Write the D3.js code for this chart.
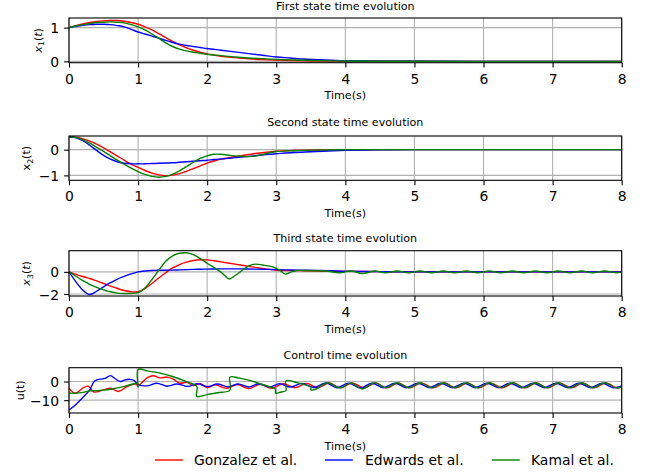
<!DOCTYPE html>
<html>
<head>
<meta charset="utf-8">
<script src="https://cdn.jsdelivr.net/npm/d3@7"></script>
<style>
  body { margin: 0; background: #ffffff; }
  svg text { font-family: "DejaVu Sans", sans-serif; fill: #000; }
</style>
</head>
<body>
<svg id="chart" width="650" height="472"></svg>
<script>
// ---------------- data ----------------
const timeTicks = [0, 1, 2, 3, 4, 5, 6, 7, 8];
const seriesNames = ["Gonzalez et al.", "Edwards et al.", "Kamal et al."];

// first state x1(t)
const x1Time = [0,0.1,0.2,0.3,0.4,0.5,0.6,0.7,0.8,0.9,1.0,1.1,1.2,1.3,1.4,1.5,1.6,1.7,1.8,1.9,2.0,2.2,2.4,2.6,2.8,3.0,3.2,3.4,3.6,3.8,4.0,5,6,7,8];
const x1Gonzalez = [1.00,1.06,1.11,1.15,1.18,1.20,1.21,1.21,1.19,1.15,1.10,1.02,0.93,0.82,0.70,0.59,0.49,0.40,0.33,0.27,0.22,0.15,0.11,0.075,0.05,0.035,0.024,0.016,0.01,0.007,0.005,0.001,0,0,0];
const x1Edwards  = [1.00,1.04,1.07,1.09,1.10,1.10,1.09,1.06,1.02,0.95,0.87,0.81,0.75,0.69,0.62,0.56,0.51,0.47,0.44,0.41,0.38,0.33,0.28,0.23,0.18,0.13,0.10,0.07,0.05,0.035,0.02,0.004,0,0,0];
const x1Kamal    = [1.00,1.05,1.09,1.12,1.15,1.16,1.17,1.16,1.14,1.09,1.02,0.93,0.81,0.68,0.55,0.44,0.36,0.31,0.27,0.24,0.21,0.17,0.13,0.10,0.08,0.06,0.045,0.032,0.022,0.015,0.01,0.002,0,0,0];
const x1Ticks = [0, 1];

// second state x2(t)
const x2Time = [0,0.1,0.2,0.3,0.4,0.5,0.6,0.7,0.8,0.9,1.0,1.1,1.2,1.3,1.4,1.5,1.6,1.7,1.8,1.9,2.0,2.1,2.2,2.3,2.4,2.5,2.6,2.7,2.8,2.9,3.0,3.25,3.5,3.75,4.0,4.5,5,6,7,8];
const x2Gonzalez = [0.50,0.48,0.42,0.33,0.21,0.07,-0.09,-0.25,-0.41,-0.56,-0.69,-0.81,-0.91,-0.98,-1.01,-0.99,-0.93,-0.84,-0.74,-0.63,-0.52,-0.44,-0.37,-0.32,-0.27,-0.23,-0.19,-0.15,-0.12,-0.09,-0.06,-0.035,-0.02,-0.01,-0.005,0,0,0,0,0];
const x2Edwards  = [0.50,0.46,0.35,0.17,-0.03,-0.22,-0.37,-0.47,-0.53,-0.55,-0.55,-0.55,-0.54,-0.53,-0.52,-0.51,-0.49,-0.47,-0.45,-0.43,-0.41,-0.38,-0.36,-0.34,-0.31,-0.29,-0.26,-0.23,-0.21,-0.18,-0.16,-0.11,-0.08,-0.05,-0.03,-0.01,0,0,0,0];
const x2Kamal    = [0.50,0.47,0.38,0.25,0.09,-0.07,-0.24,-0.41,-0.57,-0.72,-0.85,-0.96,-1.04,-1.07,-1.04,-0.95,-0.82,-0.66,-0.49,-0.34,-0.24,-0.18,-0.18,-0.21,-0.24,-0.26,-0.27,-0.25,-0.19,-0.12,-0.07,-0.04,-0.02,-0.01,0,0,0,0,0,0];
const x2Ticks = [-1, 0];

// third state x3(t)
const x3Time = [0,0.1,0.2,0.3,0.4,0.5,0.6,0.7,0.8,0.9,1.0,1.1,1.2,1.3,1.4,1.5,1.6,1.7,1.8,1.9,2.0,2.1,2.2,2.3,2.4,2.5,2.6,2.7,2.8,2.9,3.0,3.2,3.4,3.6,3.8,4.0,4.5,5,6,7,8];
const x3Gonzalez = [0,-0.22,-0.42,-0.6,-0.82,-1.05,-1.28,-1.5,-1.68,-1.8,-1.8,-1.5,-1.05,-0.55,-0.08,0.35,0.66,0.88,1.02,1.09,1.08,1.0,0.9,0.8,0.7,0.6,0.5,0.4,0.3,0.22,0.15,0.12,0.1,0.08,0.06,0.04,0.02,0.01,0,0,0];
const x3Edwards  = [0,-0.9,-1.65,-2.05,-1.75,-1.35,-0.98,-0.65,-0.40,-0.18,0.0,0.08,0.12,0.14,0.15,0.16,0.18,0.2,0.22,0.24,0.25,0.26,0.27,0.27,0.27,0.27,0.26,0.25,0.24,0.22,0.2,0.17,0.15,0.13,0.1,0.06,0.02,0.0,0,0,0];
const x3KamalTime = [0,0.1,0.2,0.3,0.4,0.5,0.6,0.7,0.8,0.9,1.0,1.1,1.2,1.3,1.4,1.5,1.6,1.7,1.8,1.9,2.0,2.1,2.2,2.32,2.4,2.5,2.6,2.7,2.8,2.95,3.05,3.13,3.22,3.3,3.45,3.6,3.75,3.92,4.08,4.25,4.42,4.58,4.75,4.92,5.08,5.25,5.42,5.58,5.75,5.92,6.08,6.25,6.42,6.58,6.75,6.92,7.08,7.25,7.42,7.58,7.75,7.92,8.0];
const x3Kamal    = [0,-0.4,-0.8,-1.12,-1.4,-1.62,-1.8,-1.92,-1.95,-1.95,-1.88,-1.45,-0.7,0.15,0.95,1.45,1.68,1.72,1.55,1.2,0.78,0.38,-0.02,-0.64,-0.35,0.1,0.55,0.7,0.62,0.45,0.15,-0.2,0.0,0.12,0.12,0.1,0.05,-0.08,0.08,-0.15,0.08,-0.08,0.08,-0.08,0.08,-0.08,0.08,-0.08,0.08,-0.08,0.08,-0.08,0.08,-0.08,0.08,-0.08,0.08,-0.08,0.08,-0.08,0.08,-0.08,0.0];
const x3Ticks = [-2, 0];

// control u(t)
const uTimeGonzalez = [0,0.09,0.2,0.28,0.36,0.5,0.6,0.72,0.84,0.96,1.0,1.13,1.22,1.32,1.42,1.51,1.61,1.71,1.8,1.9,2.0,2.12,2.28,2.44,2.6,2.77,2.93,3.1,3.27,3.44,3.6,3.77,3.93,4.10,4.27,4.44,4.60,4.77,4.93,5.10,5.27,5.44,5.60,5.77,5.93,6.10,6.27,6.44,6.60,6.77,6.93,7.10,7.27,7.44,7.60,7.77,7.93,8.0];
const uGonzalez = [-3.5,-6.3,-3.5,-2.5,-5.6,-4.5,-3.6,-5.3,-2.7,-1.3,-2.2,2.0,3.1,2.0,2.4,1.3,-0.9,-0.4,-2.2,-1.2,-3.2,-1.8,-3.6,-1.6,-3.8,-1.5,-3.6,-1.2,-3.3,-1.0,-3.3,-0.8,-3.4,-0.8,-3.4,-0.8,-3.4,-0.8,-3.4,-0.8,-3.4,-0.8,-3.4,-0.8,-3.4,-0.8,-3.4,-0.8,-3.4,-0.8,-3.4,-0.8,-3.4,-0.8,-3.4,-0.8,-3.4,-3.0];
const uTimeEdwards = [0,0.1,0.2,0.3,0.37,0.45,0.52,0.6,0.67,0.74,0.8,0.88,0.94,1.0,1.13,1.27,1.42,1.56,1.72,1.86,2.0,2.15,2.3,2.45,2.6,2.75,2.9,3.05,3.2,3.37,3.54,3.72,3.88,4.05,4.22,4.38,4.55,4.72,4.88,5.05,5.22,5.38,5.55,5.72,5.88,6.05,6.22,6.38,6.55,6.72,6.88,7.05,7.22,7.38,7.55,7.72,7.88,8.0];
const uEdwards = [-15.3,-12.3,-8.6,-4.5,0.3,1.3,1.7,3.2,1.5,0.0,0.8,1.2,0.6,-1.6,-2.3,-0.9,-2.5,-1.3,-2.6,-1.2,-2.7,-1.3,-2.8,-1.3,-2.9,-1.2,-2.9,-1.1,-3.0,-1.0,-3.2,-0.8,-3.3,-0.9,-3.5,-0.9,-3.3,-0.9,-3.3,-0.9,-3.3,-0.9,-3.3,-0.9,-3.3,-0.9,-3.3,-0.9,-3.3,-0.9,-3.3,-0.9,-3.3,-0.9,-3.3,-0.9,-3.3,-2.4];
const uTimeKamal = [0,0.1,0.2,0.3,0.4,0.5,0.6,0.7,0.8,0.9,0.98,1.0,1.0,1.15,1.32,1.51,1.71,1.85,1.85,2.0,2.15,2.33,2.33,2.45,2.6,2.75,2.9,2.99,2.99,3.07,3.14,3.14,3.3,3.5,3.5,3.58,3.65,3.75,3.92,4.08,4.25,4.42,4.58,4.75,4.92,5.08,5.25,5.42,5.58,5.75,5.92,6.08,6.25,6.42,6.58,6.75,6.92,7.08,7.25,7.42,7.58,7.75,7.92,8.0];
const uKamal = [-6.3,-6.2,-5.8,-5.0,-4.9,-4.6,-4.1,-3.4,-2.6,-1.6,-1.0,-3.0,6.5,5.6,4.5,2.6,-0.2,-2.6,-8.0,-7.0,-6.0,-4.6,2.4,2.0,0.8,-1.0,-2.8,-4.2,-6.3,-5.6,-4.9,0.4,-0.6,-3.1,-4.4,-4.0,-2.2,-0.6,-3.4,-0.8,-4.0,-0.6,-3.4,-0.6,-3.4,-0.6,-3.4,-0.6,-3.4,-0.6,-3.4,-0.6,-3.4,-0.6,-3.4,-0.6,-3.4,-0.6,-3.4,-0.6,-3.4,-0.6,-3.4,-2.8];
const uTicks = [-10, 0];

// ---------------- drawing ----------------
const colors = ["#ff0000", "#0000ff", "#008000"];
const svg = d3.select("#chart");
const x = d3.scaleLinear().domain([0, 8]).range([69, 621.7]);
const minus = d => (d < 0 ? "\u2212" + Math.abs(d) : String(d));
const zip = (t, v) => t.map((ti, i) => [ti, v[i]]);

const panels = [
  { top: 18, bottom: 62.7, domain: [-0.04, 1.285], ticks: x1Ticks,
    title: "First state time evolution", titleGap: 8,
    label: [{ s: "x", i: true }, { s: "1", sub: true }, { s: "(" }, { s: "t", i: true }, { s: ")" }], labelX: 41.5,
    series: [zip(x1Time, x1Gonzalez), zip(x1Time, x1Edwards), zip(x1Time, x1Kamal)] },
  { top: 136, bottom: 180.3, domain: [-1.19, 0.53], ticks: x2Ticks,
    title: "Second state time evolution", titleGap: 10,
    label: [{ s: "x" }, { s: "2", sub: true }, { s: "(t)" }], labelX: 30,
    series: [zip(x2Time, x2Gonzalez), zip(x2Time, x2Edwards), zip(x2Time, x2Kamal)] },
  { top: 250.7, bottom: 296, domain: [-2.18, 1.91], ticks: x3Ticks,
    title: "Third state time evolution", titleGap: 9,
    label: [{ s: "x", i: true }, { s: "3", sub: true }, { s: "(" }, { s: "t", i: true }, { s: ")" }], labelX: 30,
    series: [zip(x3Time, x3Gonzalez), zip(x3Time, x3Edwards), zip(x3KamalTime, x3Kamal)] },
  { top: 367.7, bottom: 413, domain: [-16.9, 7.45], ticks: uTicks,
    title: "Control time evolution", titleGap: 9,
    label: [{ s: "u(t)" }], labelX: 23.5,
    series: [zip(uTimeGonzalez, uGonzalez), zip(uTimeEdwards, uEdwards), zip(uTimeKamal, uKamal)] }
];

const defs = svg.append("defs");

panels.forEach((p, k) => {
  const y = d3.scaleLinear().domain(p.domain).range([p.bottom, p.top]);
  const g = svg.append("g");
  const [xl, xr] = x.range();

  defs.append("clipPath").attr("id", "clip" + k)
    .append("rect").attr("x", xl).attr("y", p.top).attr("width", xr - xl).attr("height", p.bottom - p.top);

  // grid
  g.append("g").selectAll("line").data(timeTicks).join("line")
    .attr("x1", d => x(d)).attr("x2", d => x(d)).attr("y1", p.top).attr("y2", p.bottom)
    .attr("stroke", "#b0b0b0").attr("stroke-width", 1.1);
  g.append("g").selectAll("line").data(p.ticks).join("line")
    .attr("x1", xl).attr("x2", xr).attr("y1", d => y(d)).attr("y2", d => y(d))
    .attr("stroke", "#b0b0b0").attr("stroke-width", 1.1);

  // series
  const line = d3.line().x(d => x(d[0])).y(d => y(d[1])).curve(d3.curveCatmullRom.alpha(0.5));
  const lg = g.append("g").attr("clip-path", `url(#clip${k})`);
  p.series.forEach((s, i) => {
    lg.append("path").attr("d", line(s)).attr("fill", "none")
      .attr("stroke", colors[i]).attr("stroke-width", 1.4).attr("stroke-linejoin", "round");
  });

  // axes
  const ax = g.append("g").attr("transform", `translate(0,${p.bottom})`)
    .call(d3.axisBottom(x).tickValues(timeTicks).tickSize(4.9).tickPadding(4.9).tickFormat(d3.format("d")));
  ax.selectAll("text").attr("y", 21).attr("dy", 0).style("font-size", "13.9px");
  const ay = g.append("g").attr("transform", `translate(${xl},0)`)
    .call(d3.axisLeft(y).tickValues(p.ticks).tickSize(4.9).tickPadding(4.9).tickFormat(minus));
  ay.selectAll("text").attr("dy", "0.36em").style("font-size", "13.9px");
  [ax, ay].forEach(a => {
    a.select(".domain").remove();
    a.selectAll(".tick line").attr("stroke", "#000").attr("stroke-width", 1.1);
    a.selectAll("text").attr("fill", "#000").attr("font-family", "DejaVu Sans");
  });

  // spines
  g.append("rect").attr("x", xl).attr("y", p.top).attr("width", xr - xl).attr("height", p.bottom - p.top)
    .attr("fill", "none").attr("stroke", "#000").attr("stroke-width", 1.1);

  // title and x label
  g.append("text").attr("x", (xl + xr) / 2).attr("y", p.top - p.titleGap).attr("text-anchor", "middle")
    .style("font-size", "11.1px").text(p.title);
  g.append("text").attr("x", (xl + xr) / 2).attr("y", p.bottom + 36.5).attr("text-anchor", "middle")
    .style("font-size", "11.1px").text("Time(s)");

  // y label
  const yl = g.append("text")
    .attr("transform", `translate(${p.labelX},${(p.top + p.bottom) / 2}) rotate(-90)`)
    .attr("text-anchor", "middle").style("font-size", "11.1px");
  let shifted = false;
  p.label.forEach(part => {
    const ts = yl.append("tspan").text(part.s);
    if (part.i) ts.style("font-style", "italic");
    if (part.sub) { ts.attr("dy", 2.6).style("font-size", "7.8px"); shifted = true; }
    else if (shifted) { ts.attr("dy", -2.6); shifted = false; }
  });
});

// legend
const legendItems = [
  { x0: 155, tx: 194 },
  { x0: 325, tx: 365 },
  { x0: 492, tx: 531 }
];
const leg = svg.append("g");
seriesNames.forEach((name, i) => {
  leg.append("line").attr("x1", legendItems[i].x0).attr("x2", legendItems[i].x0 + 27.8)
    .attr("y1", 460).attr("y2", 460).attr("stroke", colors[i]).attr("stroke-width", 1.4);
  leg.append("text").attr("x", legendItems[i].tx).attr("y", 465).style("font-size", "13.9px").text(name);
});
</script>
</body>
</html>
